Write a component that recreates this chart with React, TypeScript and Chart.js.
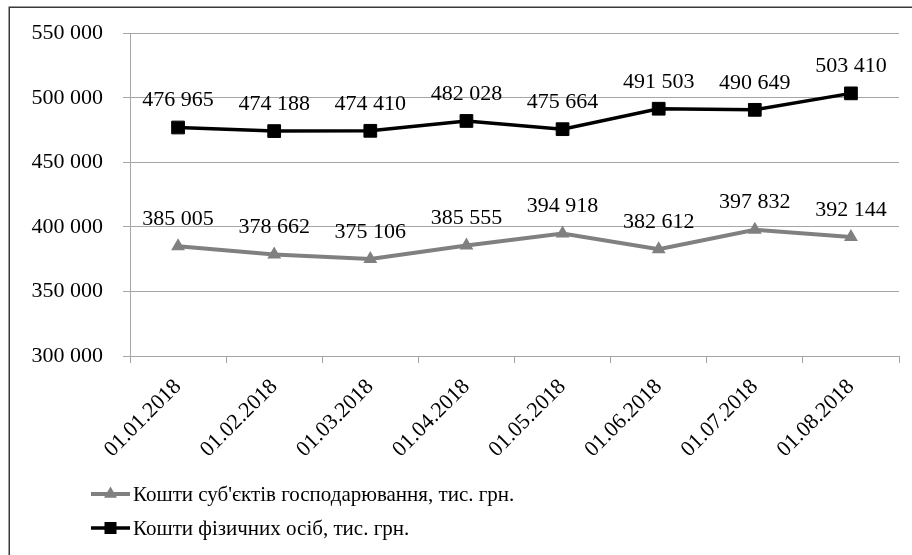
import React, { useEffect, useRef } from "react";
import { Chart, registerables } from "chart.js";

Chart.register(...registerables);

const categories = [
  "01.01.2018",
  "01.02.2018",
  "01.03.2018",
  "01.04.2018",
  "01.05.2018",
  "01.06.2018",
  "01.07.2018",
  "01.08.2018",
];
const businessFunds = [385005, 378662, 375106, 385555, 394918, 382612, 397832, 392144];
const individualFunds = [476965, 474188, 474410, 482028, 475664, 491503, 490649, 503410];
const seriesLabels = [
  "Кошти суб'єктів господарювання, тис. грн.",
  "Кошти фізичних осіб, тис. грн.",
];
const yMin = 300000;
const yMax = 550000;
const yStep = 50000;

const FONT_FAMILY = "'Liberation Serif', 'Times New Roman', serif";
const GRID_COLOR = "#a6a6a6";
const GRAY = "#808080";
const BLACK = "#000000";

function fmt(v: number): string {
  return String(Math.round(v)).replace(/\B(?=(\d{3})+(?!\d))/g, " ");
}

function drawMarker(ctx: CanvasRenderingContext2D, style: string, x: number, y: number, r: number, color: string) {
  ctx.save();
  ctx.fillStyle = color;
  ctx.beginPath();
  if (style === "triangle") {
    for (let i = 0; i < 3; i++) {
      const a = -Math.PI / 2 + (i * 2 * Math.PI) / 3;
      const px = x + r * Math.cos(a);
      const py = y + r * Math.sin(a);
      if (i === 0) ctx.moveTo(px, py);
      else ctx.lineTo(px, py);
    }
    ctx.closePath();
  } else {
    const s = r * Math.SQRT1_2;
    ctx.rect(x - s, y - s, 2 * s, 2 * s);
  }
  ctx.fill();
  ctx.restore();
}

const framePlugin = {
  id: "frame",
  beforeDraw(chart: any) {
    const ctx = chart.ctx;
    ctx.save();
    ctx.fillStyle = "#ffffff";
    ctx.fillRect(0, 0, chart.width, chart.height);
    ctx.strokeStyle = "#3a3a3a";
    ctx.lineWidth = 1.5;
    ctx.beginPath();
    ctx.moveTo(9.25, chart.height);
    ctx.lineTo(9.25, 7.25);
    ctx.lineTo(chart.width, 7.25);
    ctx.stroke();
    ctx.restore();
  },
};

const dataLabelPlugin = {
  id: "dataLabels",
  afterDatasetsDraw(chart: any) {
    const ctx = chart.ctx;
    ctx.save();
    ctx.font = `22px ${FONT_FAMILY}`;
    ctx.fillStyle = "#000";
    ctx.textAlign = "center";
    ctx.textBaseline = "middle";
    chart.data.datasets.forEach((ds: any, i: number) => {
      const meta = chart.getDatasetMeta(i);
      meta.data.forEach((pt: any, j: number) => {
        ctx.fillText(fmt(ds.data[j]), pt.x, pt.y - 27);
      });
    });
    ctx.restore();
  },
};

const customLegendPlugin = {
  id: "customLegend",
  afterDraw(chart: any) {
    const ctx = chart.ctx;
    ctx.save();
    ctx.font = `21px ${FONT_FAMILY}`;
    ctx.fillStyle = "#000";
    ctx.textAlign = "left";
    ctx.textBaseline = "middle";
    chart.data.datasets.forEach((ds: any, i: number) => {
      const y = 494 + i * 34;
      ctx.strokeStyle = ds.borderColor;
      ctx.lineWidth = ds.borderWidth;
      ctx.beginPath();
      ctx.moveTo(91, y);
      ctx.lineTo(130, y);
      ctx.stroke();
      drawMarker(ctx, ds.pointStyle, 110.5, y, ds.pointStyle === "triangle" ? 7.5 : 8.5, ds.borderColor);
      ctx.fillStyle = "#000";
      ctx.fillText(ds.label, 133, y + 1);
    });
    ctx.restore();
  },
};

export default function App() {
  const canvasRef = useRef<HTMLCanvasElement | null>(null);

  useEffect(() => {
    if (!canvasRef.current) return;
    const font = { family: FONT_FAMILY, size: 22 };
    const chart = new Chart(canvasRef.current, {
      type: "line",
      data: {
        labels: categories,
        datasets: [
          {
            label: seriesLabels[0],
            data: businessFunds,
            borderColor: GRAY,
            backgroundColor: GRAY,
            borderWidth: 4,
            pointStyle: "triangle",
            pointRadius: 8,
            pointBorderWidth: 0,
            pointBackgroundColor: GRAY,
            tension: 0,
          },
          {
            label: seriesLabels[1],
            data: individualFunds,
            borderColor: BLACK,
            backgroundColor: BLACK,
            borderWidth: 3.5,
            pointStyle: "rect",
            pointRadius: 9,
            pointBorderWidth: 1,
            pointBackgroundColor: BLACK,
            tension: 0,
          },
        ],
      },
      options: {
        responsive: false,
        animation: false,
        layout: { padding: { left: 0, top: 32, right: 13, bottom: 99 } },
        plugins: {
          legend: { display: false },
          tooltip: { enabled: false },
        },
        scales: {
          x: {
            offset: true,
            grid: {
              display: true,
              drawOnChartArea: false,
              offset: true,
              tickLength: 7,
              color: GRID_COLOR,
              lineWidth: 1,
            },
            border: { color: GRID_COLOR, width: 1 },
            ticks: {
              minRotation: 45,
              maxRotation: 45,
              autoSkip: false,
              padding: 11,
              color: "#000",
              font,
            },
            afterFit: (s: any) => {
              s.height = 100;
            },
          },
          y: {
            min: yMin,
            max: yMax,
            grid: { color: GRID_COLOR, lineWidth: 1, tickLength: 7 },
            border: { color: GRID_COLOR, width: 1 },
            ticks: {
              stepSize: yStep,
              padding: 20,
              color: "#000",
              font,
              callback: (v: any) => fmt(Number(v)),
            },
            afterFit: (s: any) => {
              s.width = 130;
            },
          },
        },
      },
      plugins: [framePlugin, dataLabelPlugin, customLegendPlugin],
    } as any);
    return () => chart.destroy();
  }, []);

  return (
    <div style={{ position: "absolute", left: 0, top: 0, width: 912, height: 555 }}>
      <canvas ref={canvasRef} width={912} height={555} style={{ display: "block" }} />
    </div>
  );
}
